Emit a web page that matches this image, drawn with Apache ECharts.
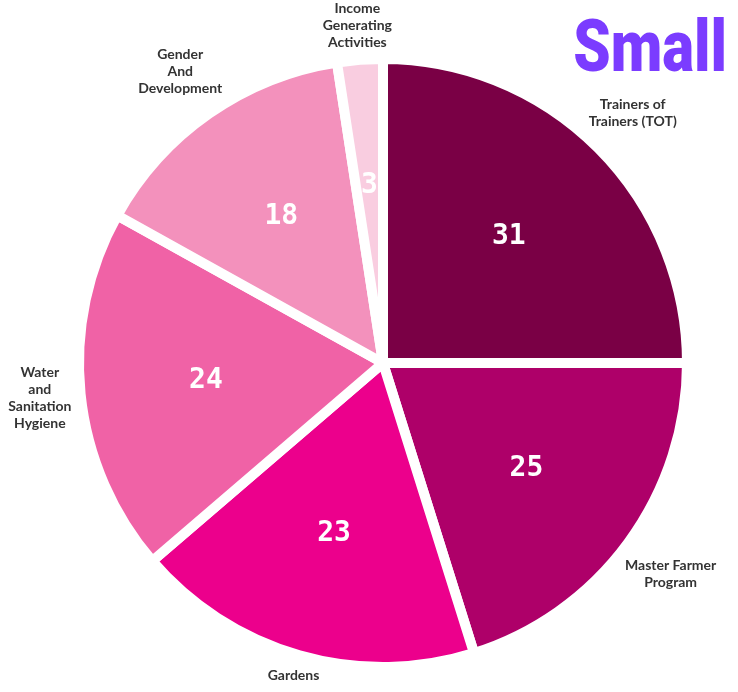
<!DOCTYPE html>
<html>
<head>
<meta charset="utf-8">
<script src="https://cdn.jsdelivr.net/npm/echarts@6/dist/echarts.min.js"></script>
<style>
  html, body { margin: 0; padding: 0; background: #fff; }
  #chart { width: 738px; height: 692px; }
</style>
</head>
<body>
<div id="chart"></div>
<script>
// Programs and their counts (clockwise from 12 o'clock)
const programNames = [
  'Trainers of\nTrainers (TOT)',
  'Master Farmer\nProgram',
  'Gardens',
  'Water\nand\nSanitation\nHygiene',
  'Gender\nAnd\nDevelopment',
  'Income\nGenerating\nActivities'
];
const programCounts = [31, 25, 23, 24, 18, 3];
const sliceColors = ['#7a0045', '#ae0069', '#ec008c', '#f062a6', '#f391bc', '#f9cde0'];

const pieData = programNames.map((name, i) => ({
  name: name,
  value: programCounts[i],
  itemStyle: { color: sliceColors[i] }
}));

const chart = echarts.init(document.getElementById('chart'));

chart.setOption({
  animation: false,
  graphic: [
    {
      // heavy condensed "Small" tag in the top right corner
      type: 'text',
      x: 727,
      y: 53,
      scaleX: 0.82,
      style: {
        text: 'Small',
        fill: '#7b3cff',
        font: '900 73px Roboto, sans-serif',
        textAlign: 'right',
        textVerticalAlign: 'middle'
      }
    }
  ],
  series: [
    {
      // slices + outer category labels
      type: 'pie',
      center: [383, 363],
      radius: 304,
      startAngle: 90,
      clockwise: true,
      avoidLabelOverlap: false,
      itemStyle: { borderColor: '#fff', borderWidth: 10 },
      label: {
        show: true,
        position: 'outside',
        color: '#333',
        fontFamily: 'Lato, sans-serif',
        fontWeight: 'bold',
        fontSize: 14,
        lineHeight: 17
      },
      labelLine: { show: true, length: 6, length2: 0, lineStyle: { opacity: 0 } },
      labelLayout: function (p) {
        // put the centred text block just outside the slice, along its mid-angle
        if (!p.labelLinePoints) return { align: 'center' };
        const a = p.labelLinePoints[0];
        const b = p.labelLinePoints[1];
        let ux = b[0] - a[0];
        let uy = b[1] - a[1];
        const len = Math.hypot(ux, uy) || 1;
        ux /= len; uy /= len;
        const ext = Math.abs(ux) * p.labelRect.width / 2 + Math.abs(uy) * p.labelRect.height / 2;
        return {
          x: b[0] + ux * ext,
          y: b[1] + uy * ext,
          align: 'center',
          verticalAlign: 'middle'
        };
      },
      emphasis: { disabled: true },
      data: pieData
    },
    {
      // invisible twin, only for the value labels
      type: 'pie',
      center: [383, 363],
      radius: 350,
      startAngle: 90,
      clockwise: true,
      silent: true,
      itemStyle: { color: 'transparent', borderWidth: 0 },
      label: {
        show: true,
        position: 'inside',
        formatter: '{c}',
        color: '#fff',
        fontFamily: '"DejaVu Sans Mono", monospace',
        fontWeight: 'bold',
        fontSize: 28
      },
      labelLine: { show: false },
      emphasis: { disabled: true },
      data: programNames.map((name, i) => ({ name: name, value: programCounts[i] }))
    }
  ]
});
</script>
</body>
</html>
